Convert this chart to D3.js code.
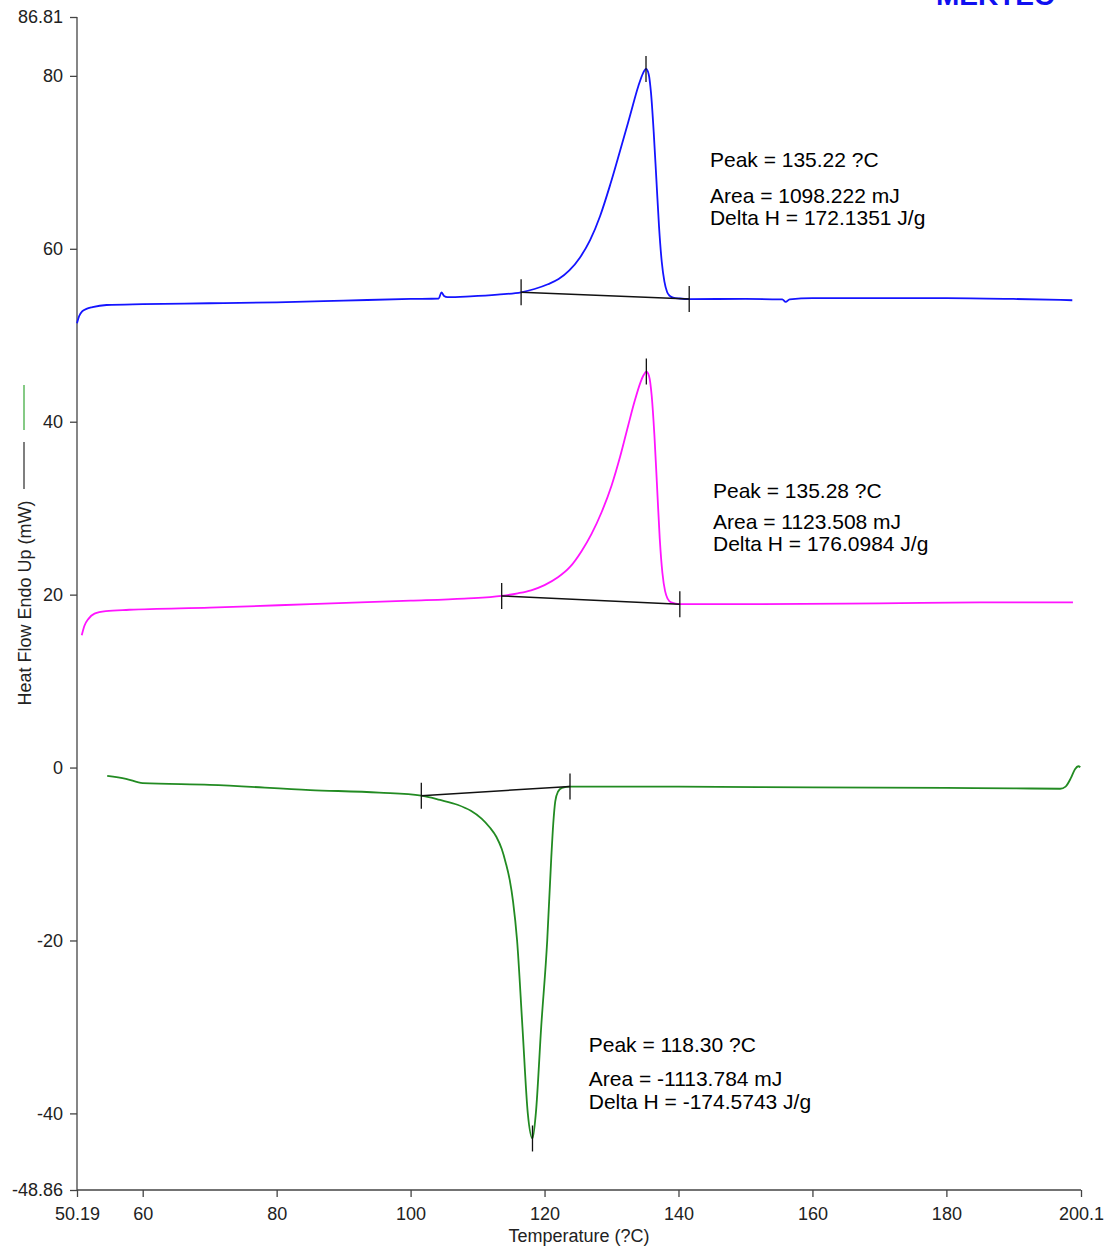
<!DOCTYPE html>
<html>
<head>
<meta charset="utf-8">
<script src="https://cdn.jsdelivr.net/npm/d3@7"></script>
<style>
  html, body { margin: 0; padding: 0; background: #fff; }
  svg { display: block; font-family: Arial, "Liberation Sans", sans-serif; }
</style>
</head>
<body>
<svg id="chart" width="1109" height="1248"></svg>
<script>
// ---------- data ----------
const xDomain = [50.19, 200.1];
const yDomain = [-48.86, 86.81];
const xTicks = [50.19, 60, 80, 100, 120, 140, 160, 180, 200.1];
const xTickLabels = ["50.19", "60", "80", "100", "120", "140", "160", "180", "200.1"];
const yTicks = [86.81, 80, 60, 40, 20, 0, -20, -40, -48.86];
const yTickLabels = ["86.81", "80", "60", "40", "20", "0", "-20", "-40", "-48.86"];

// blue curve (first heating)
const blueT = [50.19, 50.5, 51.0, 51.6, 52.5, 54.6, 60, 70, 80, 90, 100, 104.2, 104.6, 105.0, 105.5, 108.9, 113, 116.5, 118.5, 120.5, 122.1, 123.7, 125.3, 126.8, 128.3, 129.8, 131.3, 132.8, 134.0, 134.7, 135.15, 135.55, 135.9, 136.3, 136.7, 137.1, 137.5, 137.9, 138.3, 138.7, 139.2, 140.2, 141.6, 150, 155.5, 156.0, 156.6, 160, 170, 180, 190, 198.8];
const blueV = [51.4, 52.2, 52.8, 53.05, 53.25, 53.5, 53.6, 53.7, 53.8, 54.0, 54.2, 54.25, 54.95, 54.55, 54.4, 54.5, 54.7, 54.97, 55.35, 55.9, 56.5, 57.5, 59.0, 61.0, 63.8, 67.4, 71.4, 75.5, 78.8, 80.3, 80.8, 80.2, 78.0, 73.5, 68.0, 62.5, 58.5, 56.2, 55.0, 54.55, 54.35, 54.25, 54.19, 54.2, 54.15, 53.85, 54.15, 54.3, 54.3, 54.3, 54.2, 54.05];

// magenta curve (second heating)
const magT = [50.9, 51.3, 51.9, 52.8, 54.5, 58, 70, 85, 100, 108, 113.6, 116, 118, 120, 122, 123.8, 125.5, 127, 128.5, 130, 131.3, 132.5, 133.5, 134.3, 134.8, 135.2, 135.6, 136.0, 136.4, 136.8, 137.2, 137.6, 138.0, 138.4, 138.9, 140.2, 150, 170, 185, 198.9];
const magV = [15.3, 16.4, 17.2, 17.8, 18.1, 18.25, 18.5, 18.9, 19.3, 19.55, 19.85, 20.15, 20.5, 21.1, 22.0, 23.2, 25.0, 27.0, 29.5, 32.6, 36.0, 39.6, 42.5, 44.5, 45.4, 45.8, 45.3, 43.0, 38.5, 32.5, 26.5, 22.5, 20.4, 19.5, 19.1, 18.9, 18.9, 19.0, 19.1, 19.1];

// green curve (cooling)
const greenT = [54.7, 57.5, 60, 70, 85, 95.3, 101.6, 104.4, 107, 109, 110.6, 111.8, 112.8, 113.6, 114.2, 114.8, 115.3, 115.9, 116.7, 117.5, 118.2, 118.7, 119.5, 120.4, 121.0, 121.3, 121.6, 122.0, 122.6, 123.8, 140, 160, 180, 190, 197, 197.8, 198.6, 199.2, 199.7, 200.0];
const greenV = [-0.95, -1.3, -1.8, -2.0, -2.6, -2.9, -3.25, -3.75, -4.3, -5.0, -5.9, -6.9, -8.0, -9.4, -11.0, -13.0, -15.5, -20.0, -30.0, -40.0, -42.9, -40.0, -30.0, -20.0, -10.5, -6.5, -3.9, -2.8, -2.35, -2.2, -2.2, -2.3, -2.35, -2.4, -2.45, -2.2, -1.2, -0.2, 0.15, 0.05];

// peak integration: baseline start/end and peak
const seriesNames = ["blue", "magenta", "green"];
const seriesColors = ["#1414ff", "#ff14ff", "#228b22"];
const baseStartT = [116.5, 113.6, 101.6];
const baseStartV = [54.97, 19.85, -3.25];
const baseEndT = [141.6, 140.2, 123.8];
const baseEndV = [54.19, 18.9, -2.2];
const peakT = [135.15, 135.2, 118.2];
const peakV = [80.8, 45.8, -42.9];

// annotation text
const annPeak = ["Peak = 135.22 ?C", "Peak = 135.28 ?C", "Peak = 118.30 ?C"];
const annArea = ["Area = 1098.222 mJ", "Area = 1123.508 mJ", "Area = -1113.784 mJ"];
const annDelta = ["Delta H = 172.1351 J/g", "Delta H = 176.0984 J/g", "Delta H = -174.5743 J/g"];
const annT = [144.7, 145.15, 126.6];
const annPeakV = [69.5, 31.2, -32.9];
const annAreaV = [65.3, 27.6, -36.8];
const annDeltaV = [62.7, 25.0, -39.45];

const xTitle = "Temperature (?C)";
const yTitle = "Heat Flow Endo Up (mW)";
const logoText = "MEKTEC";

// ---------- drawing ----------
const svg = d3.select("#chart");
const L = 77, R = 1081, T = 17, B = 1190;
const x = d3.scaleLinear().domain(xDomain).range([L, R]);
const y = d3.scaleLinear().domain(yDomain).range([B, T]);

svg.append("rect").attr("width", 1109).attr("height", 1248).attr("fill", "#fff");

// logo (cut off at top edge, as in the source)
svg.append("text").attr("x", 936).attr("y", 5)
  .attr("font-size", 28).attr("font-weight", "bold").attr("fill", "#1010f0")
  .text(logoText);

// axes
const axisColor = "#444";
const yAxis = d3.axisLeft(y).tickValues(yTicks).tickSize(7).tickPadding(7)
  .tickFormat((d, i) => yTickLabels[i]);
const gy = svg.append("g").attr("transform", `translate(${L},0)`).call(yAxis);
const xAxis = d3.axisBottom(x).tickValues(xTicks).tickSize(7).tickPadding(10)
  .tickFormat((d, i) => xTickLabels[i]);
const gx = svg.append("g").attr("transform", `translate(0,${B})`).call(xAxis);
[gx, gy].forEach(g => {
  g.select(".domain").attr("stroke", axisColor).attr("stroke-width", 1.3);
  g.selectAll(".tick line").attr("stroke", axisColor).attr("stroke-width", 1.3);
  g.selectAll(".tick text").attr("fill", "#222").attr("font-size", 18)
    .attr("font-family", "Arial, 'Liberation Sans', sans-serif");
});
gy.select(".domain").attr("d", `M0,${T}V${B}`);
gx.select(".domain").attr("d", `M${L},0H${R}`);

// axis titles
svg.append("text").attr("x", 579).attr("y", 1242).attr("text-anchor", "middle")
  .attr("font-size", 18).attr("fill", "#222").text(xTitle);
svg.append("text").attr("transform", "translate(31,603) rotate(-90)")
  .attr("text-anchor", "middle").attr("font-size", 18).attr("fill", "#222").text(yTitle);
// legend segments next to y title
svg.append("line").attr("x1", 24).attr("x2", 24).attr("y1", 442).attr("y2", 489)
  .attr("stroke", "#555").attr("stroke-width", 1.5);
svg.append("line").attr("x1", 24).attr("x2", 24).attr("y1", 385).attr("y2", 430)
  .attr("stroke", "#5cb85c").attr("stroke-width", 1.5);

// curves
const line = d3.line().x(d => x(d[0])).y(d => y(d[1])).curve(d3.curveMonotoneX);
const curves = [d3.zip(blueT, blueV), d3.zip(magT, magV), d3.zip(greenT, greenV)];
curves.forEach((pts, i) => {
  svg.append("path").datum(pts).attr("d", line).attr("fill", "none")
    .attr("stroke", seriesColors[i]).attr("stroke-width", 1.8)
    .attr("stroke-linejoin", "round");
});

// baselines, tick marks and annotations
seriesNames.forEach((n, i) => {
  svg.append("line")
    .attr("x1", x(baseStartT[i])).attr("y1", y(baseStartV[i]))
    .attr("x2", x(baseEndT[i])).attr("y2", y(baseEndV[i]))
    .attr("stroke", "#111").attr("stroke-width", 1.5);
  [[baseStartT[i], baseStartV[i]], [baseEndT[i], baseEndV[i]], [peakT[i], peakV[i]]].forEach(p => {
    svg.append("line").attr("x1", x(p[0])).attr("x2", x(p[0]))
      .attr("y1", y(p[1]) - 13).attr("y2", y(p[1]) + 13)
      .attr("stroke", "#111").attr("stroke-width", 1.3);
  });
  const g = svg.append("g").attr("font-size", 21).attr("fill", "#000");
  g.append("text").attr("x", x(annT[i])).attr("y", y(annPeakV[i])).text(annPeak[i]);
  g.append("text").attr("x", x(annT[i])).attr("y", y(annAreaV[i])).text(annArea[i]);
  g.append("text").attr("x", x(annT[i])).attr("y", y(annDeltaV[i])).text(annDelta[i]);
});
</script>
</body>
</html>
